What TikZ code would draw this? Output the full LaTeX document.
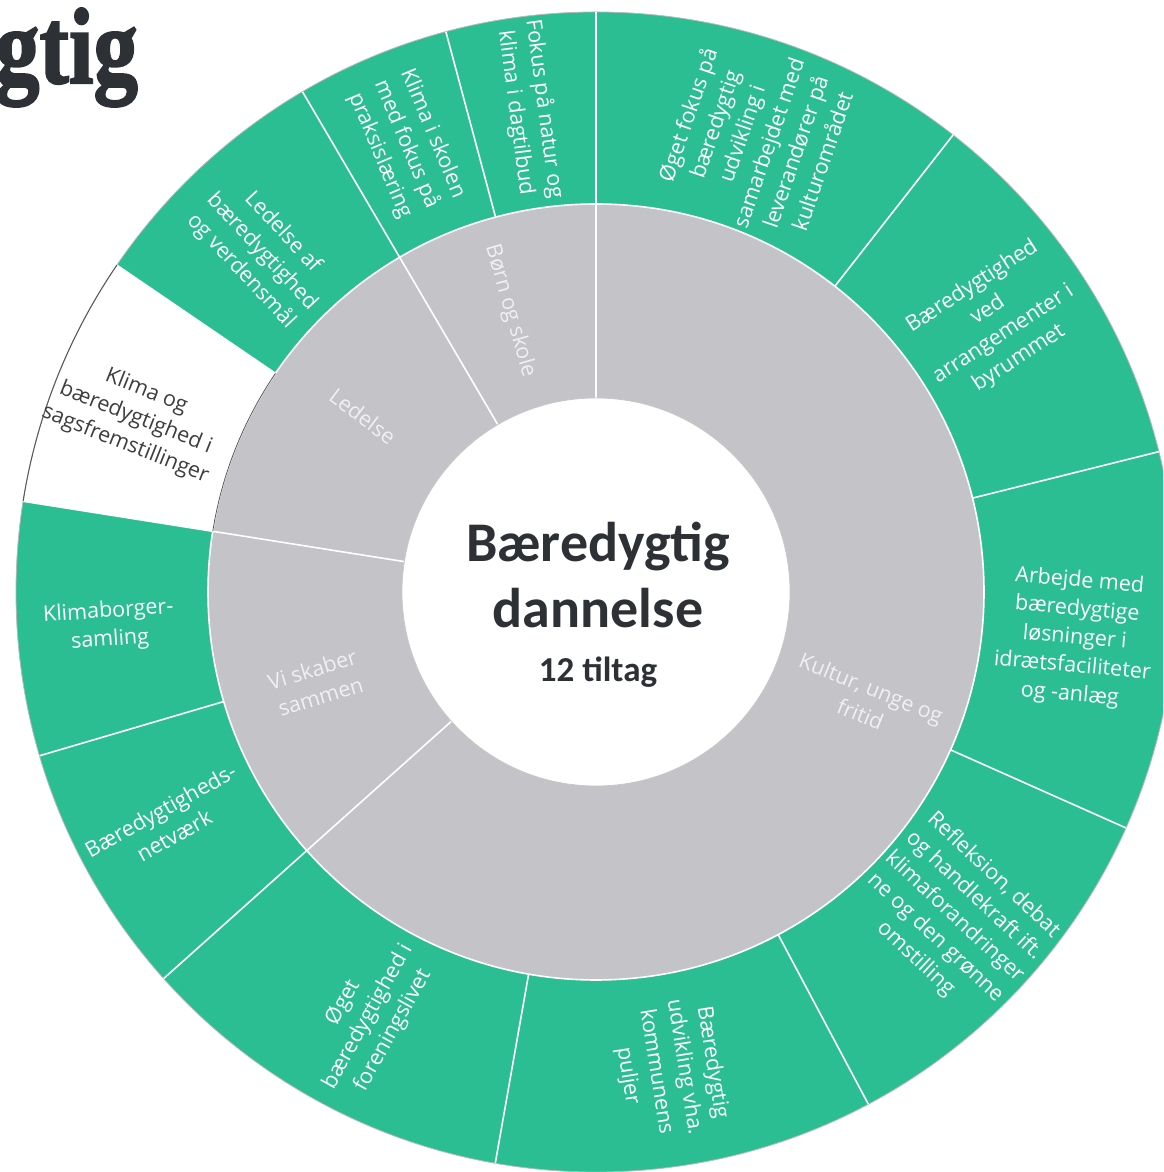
\documentclass[tikz,border=0pt]{standalone}
\usepackage{fontspec}
\setmainfont{Open Sans}
\newfontfamily\cfont{Carlito}
\newfontfamily\tfont{Liberation Serif}[FakeBold=2]
\definecolor{leafgreen}{RGB}{43,190,146}
\definecolor{ringgrey}{RGB}{196,196,200}
\definecolor{inkdark}{RGB}{45,48,53}
\definecolor{greylabel}{RGB}{240,240,242}
\definecolor{slicetext}{RGB}{62,62,64}
\tikzset{
  leaf/.style={text=white, align=center, font=\fontsize{21.5}{28.5}\selectfont, inner sep=0pt},
  leafdark/.style={leaf, text=slicetext},
  grouplabel/.style={text=greylabel, align=center, font=\fontsize{21.5}{28.5}\selectfont, inner sep=0pt},
  sepline/.style={white, line width=1.6pt},
  centertext/.style={text=inkdark, anchor=base, inner sep=0pt},
}
\begin{document}
\begin{tikzpicture}[x=1pt,y=1pt]
\useasboundingbox (0,0) rectangle (1163,1172);
\clip (0,0) rectangle (1163,1172);
\fill[white] (0,0) rectangle (1163,1172);
% title fragment
\node[anchor=base west, inner sep=0pt, text=inkdark, font=\tfont\bfseries\fontsize{108}{108}\selectfont] (title) at (-5,1089) {\scalebox{0.82}[1]{gtig}};
\begin{scope}[shift={(596,580)}]
  % rings
  \fill[leafgreen] (0,0) circle[radius=580pt];
  \fill[white] (145.7:388pt) arc[start angle=145.7,end angle=171,radius=388pt] -- (171:580pt) arc[start angle=171,end angle=145.7,radius=580pt] -- cycle;
  \fill[ringgrey] (0,0) circle[radius=388pt];
  \fill[white] (0,0) circle[radius=194pt];
  \draw[gray!55, line width=0.8pt] (0,0) circle[radius=580pt];
  % separators
  \draw[sepline] (0,0) circle[radius=388pt];
  \foreach \a in {90,120.4,171,221.8} \draw[sepline] (\a:194pt) -- (\a:580pt);
  \foreach \a in {105,145.7,196.4,260,298,336,14,52} \draw[sepline] (\a:388pt) -- (\a:580pt);
  \draw[gray!45, line width=0.7pt] (0,0) circle[radius=194pt];
  % white slice outline
  \draw[gray!70!black, line width=1pt] (145.7:580pt) arc[start angle=145.7,end angle=171,radius=580pt];
  \draw[gray!70!black, line width=0.8pt] (145.7:388pt) arc[start angle=145.7,end angle=171,radius=388pt];

  % leaf labels
  \node[leaf, rotate=-82.5] (l1) at (97.8:486pt) {Fokus på natur og\\klima i dagtilbud};
  \node[leaf, rotate=-67.3] (l2) at (113:486pt) {Klima i skolen\\med fokus på\\praksislæring};
  \node[leaf, rotate=-47] (l3) at (134.5:477pt) {Ledelse af\\bæredygtighed\\og verdensmål};
  \node[leafdark, rotate=-21.7] (l4) at (159.3:492pt) {Klima og\\bæredygtighed i\\sagsfremstillinger};
  \node[leaf, rotate=3.7] (l5) at (184:488pt) {Klimaborger-\\samling};
  \node[leaf, rotate=29.1] (l6) at (208.3:487pt) {Bæredygtigheds-\\netværk};
  \node[leaf, rotate=60.9] (l7) at (241.8:482pt) {Øget\\bæredygtighed i\\foreningslivet};
  \node[leaf, rotate=-81] (l8) at (-81.2:483pt) {Bæredygtig\\udvikling vha.\\kommunens\\puljer};
  \node[leaf, rotate=-43] (l9) at (-42.2:484pt) {Refleksion, debat\\og handlekraft ift.\\klimaforandringer\\ne og den grønne\\omstilling};
  \node[leaf, rotate=-5] (l10) at (-5.5:481pt) {Arbejde med\\bæredygtige\\løsninger i\\idrætsfaciliteter\\og -anlæg};
  \node[leaf, rotate=33] (l11) at (34:482pt) {Bæredygtighed\\ved\\arrangementer i\\byrummet};
  \node[leaf, rotate=71] (l12) at (70.8:481pt) {Øget fokus på\\bæredygtig\\udvikling i\\samarbejdet med\\leverandører på\\kulturområdet};

  % group labels
  \node[grouplabel, rotate=-74] (g1) at (107:294pt) {Børn og skole};
  \node[grouplabel, rotate=-37] (g2) at (143:292pt) {Ledelse};
  \node[grouplabel, rotate=17] (g3) at (198:294pt) {Vi skaber\\sammen};
  \node[grouplabel, rotate=-22] (g4) at (-22:291pt) {Kultur, unge og\\fritid};
\end{scope}
% centre text
\node[centertext, font=\cfont\bfseries\fontsize{56}{56}\selectfont] (c1) at (598,610) {Bæredygtig};
\node[centertext, font=\cfont\bfseries\fontsize{56}{56}\selectfont] (c2) at (598,544) {dannelse};
\node[centertext, font=\cfont\bfseries\fontsize{35}{35}\selectfont] (c3) at (598,490) {12 tiltag};
\end{tikzpicture}
\end{document}
